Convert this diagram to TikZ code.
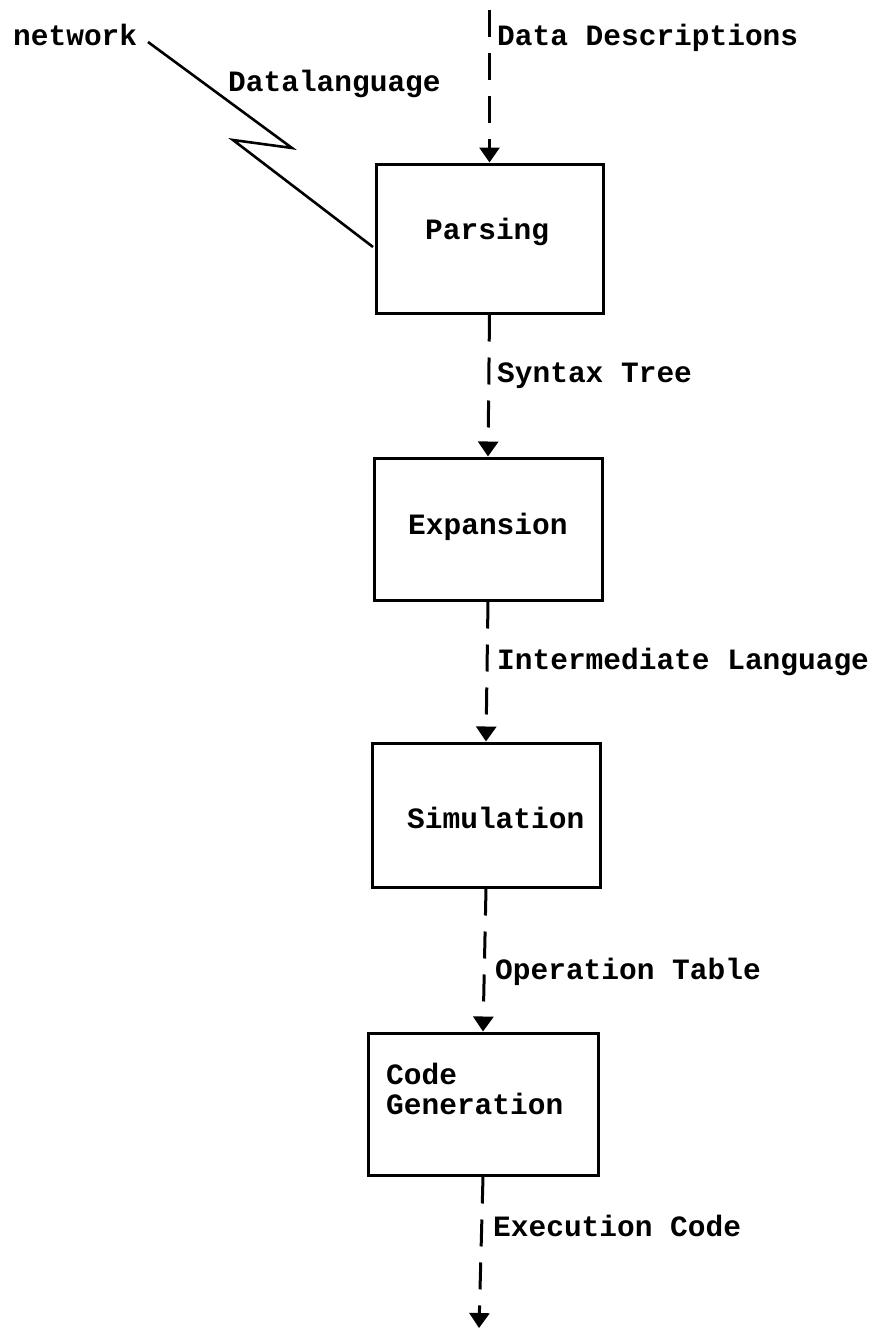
\documentclass[tikz,border=0pt]{standalone}
\usepackage{fontspec}
\setmonofont{Liberation Mono}
\usetikzlibrary{arrows.meta}
\tikzset{
  lbl/.style={font=\ttfamily\bfseries\fontsize{29.5}{34}\selectfont, inner sep=0pt, anchor=base west},
  procbox/.style={draw, line width=3pt, rectangle, inner sep=0pt},
  flow/.style={line width=3pt, dash pattern=on 27pt off 16pt, -{Triangle[width=20pt,length=15pt]}},
  zig/.style={line width=2.6pt, line join=miter}
}
\begin{document}
\begin{tikzpicture}[x=1pt,y=-1pt]
\useasboundingbox (0,0) rectangle (877,1330);
% boxes
\node[procbox, minimum width=227pt, minimum height=149pt] (parsing) at (489.5,238.5) {};
\node[procbox, minimum width=228pt, minimum height=142pt] (expansion) at (488,529) {};
\node[procbox, minimum width=228pt, minimum height=144pt] (simulation) at (486,815) {};
\node[procbox, minimum width=230pt, minimum height=142pt] (codegen) at (483,1104) {};
% box texts
\node[lbl] (tparsing) at (425,239) {Parsing};
\node[lbl] (texpansion) at (408,534) {Expansion};
\node[lbl] (tsimulation) at (407,828) {Simulation};
\node[lbl] (tcode) at (386,1084) {Code};
\node[lbl] (tgeneration) at (386,1114) {Generation};
% labels
\node[lbl] (network) at (13,46) {network};
\node[lbl] (datalang) at (228,91) {Datalanguage};
\node[lbl] (datadesc) at (497,46) {Data Descriptions};
\node[lbl] (syntax) at (497,382) {Syntax Tree};
\node[lbl] (interm) at (497,669) {Intermediate Language};
\node[lbl] (optable) at (495,979) {Operation Table};
\node[lbl] (execode) at (493,1236) {Execution Code};
% coordinates
\coordinate (top) at (489.5,10);
\coordinate (bottom) at (479,1328);
\coordinate (z0) at (148,42);
\coordinate (z1) at (292,148);
\coordinate (z2) at (233,140);
\coordinate (z3) at (373,247);
% connectors
\draw[flow] (top) -- (parsing.north);
\draw[flow] (parsing.south) -- (expansion.north);
\draw[flow] (expansion.south) -- (simulation.north);
\draw[flow] (simulation.south) -- (codegen.north);
\draw[flow] (codegen.south) -- (bottom);
\draw[zig] (z0) -- (z1) -- (z2) -- (z3);
\end{tikzpicture}
\end{document}
